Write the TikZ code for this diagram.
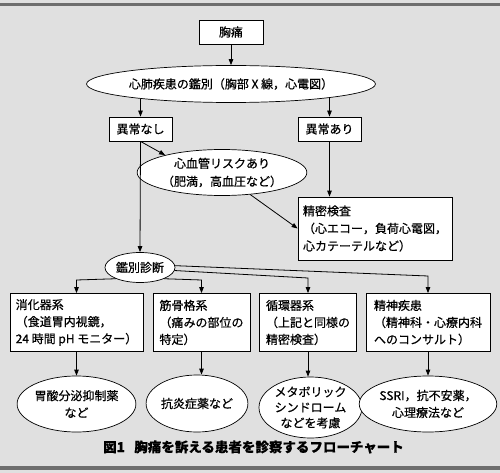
\documentclass[tikz,border=0pt]{standalone}
\usepackage{fontspec}
\setmainfont{Noto Sans CJK JP}[FakeBold=0.6,BoldFeatures={FakeBold=0.2}]
\usetikzlibrary{shapes.geometric,arrows.meta}
\definecolor{bg}{HTML}{E0E0E0}
\definecolor{band}{HTML}{6E6E6E}
\tikzset{
  box/.style={draw=black,fill=white,line width=0.8pt,inner sep=0pt,minimum height=24pt,font=\fontsize{12}{17}\selectfont},
  tbox/.style={draw=black,fill=white,line width=0.8pt,inner sep=0pt,align=left,font=\fontsize{12}{17}\selectfont},
  oval/.style={draw=black,fill=white,line width=0.7pt,ellipse,inner sep=0pt,align=center,font=\fontsize{12}{17}\selectfont},
  arr/.style={line width=0.8pt,-{Triangle[length=6pt,width=4.5pt]}},
  ln/.style={line width=0.8pt}
}
\begin{document}
\begin{tikzpicture}[x=1pt,y=-1pt]
\useasboundingbox (0,0) rectangle (500,473);
\fill[bg] (0,0) rectangle (500,473);
\fill[band] (0,3.5) rectangle (500,6.5);
\fill[band] (0,465.5) rectangle (500,470);
% nodes
\node[box,minimum width=64pt] (chest) at (231,32) {胸痛};
\node[oval,minimum width=286pt,minimum height=37pt] (e0) at (231,84) {心肺疾患の鑑別（胸部 X 線，心電図）};
\node[box,minimum width=63pt] (nashi) at (140.5,129) {異常なし};
\node[box,minimum width=63pt] (ari) at (329.5,129) {異常あり};
\node[oval,minimum width=142pt,minimum height=46pt,font=\fontsize{12}{18}\selectfont] (risk) at (222,172.5) {心血管リスクあり\\（肥満，高血圧など）};
\node[tbox,minimum width=154pt,minimum height=63pt,font=\fontsize{12}{17.5}\selectfont] (seimitsu) at (375,228.5) {精密検査\\（心エコー，負荷心電図，\\心カテーテルなど）};
\node[oval,minimum width=70pt,minimum height=30pt] (kan) at (140,267.5) {鑑別診断};
\node[tbox,minimum width=133pt,minimum height=58pt] (b1) at (76.5,322.5) {消化器系\\（食道胃内視鏡，\\24 時間 pH モニター）};
\node[tbox,minimum width=97pt,minimum height=58pt] (b2) at (201.5,322.5) {筋骨格系\\（痛みの部位の\\特定）};
\node[tbox,minimum width=97pt,minimum height=58pt] (b3) at (308,322.5) {循環器系\\（上記と同様の\\精密検査）};
\node[tbox,minimum width=124pt,minimum height=58pt] (b4) at (428,322.5) {精神疾患\\（精神科・心療内科\\へのコンサルト）};
\node[oval,minimum width=111pt,minimum height=56pt] (e1) at (76.5,404) {胃酸分泌抑制薬\\など};
\node[oval,minimum width=90pt,minimum height=57pt] (e2) at (197,403.5) {抗炎症薬など};
\node[oval,minimum width=103pt,minimum height=61pt,font=\fontsize{12}{15.5}\selectfont] (e3) at (310.5,407.5) {メタボリック\\シンドローム\\などを考慮};
\node[oval,minimum width=112pt,minimum height=56pt] (e4) at (428,404) {SSRI，抗不安薬，\\心理療法など};
\node[font=\fontsize{13.5}{16}\selectfont\bfseries] (cap) at (253.5,447) {図1\hspace{0.7em}胸痛を訴える患者を診察するフローチャート};
% coordinates
\coordinate (k1) at (76.5,280);
\coordinate (k2) at (201.5,280);
\coordinate (k3) at (308,278);
\coordinate (k4) at (428,276);
% connectors
\draw[arr] (chest) -- (e0);
\draw[arr] (nashi.north |- e0.189) -- (nashi.north);
\draw[arr] (ari.north |- e0.352) -- (ari.north);
\draw[arr] (nashi.south) -- (risk.163);
\draw[arr] (nashi.south) -- (kan.north);
\draw[arr] (ari.south) -- (ari.south |- seimitsu.north);
\draw[arr] (risk.322) -- (seimitsu.west);
\draw[arr] (kan.205) -- (k1) -- (b1.north);
\draw[arr] (kan.335) -- (k2) -- (b2.north);
\draw[arr] (kan.355) -- (k3) -- (b3.north);
\draw[arr] (kan.3) -- (k4) -- (b4.north);
\draw[arr] (b1.south) -- (b1.south |- e1.north);
\draw[arr] (b2.south) -- (b2.south |- e2.north);
\draw[arr] (b3.south) -- (b3.south |- e3.north);
\draw[arr] (b4.south) -- (b4.south |- e4.north);
\end{tikzpicture}
\end{document}
